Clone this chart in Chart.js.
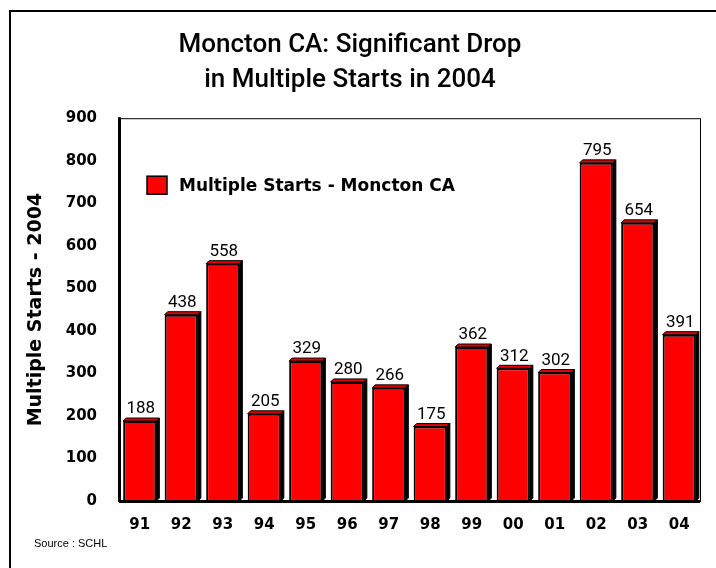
<!DOCTYPE html>
<html>
<head>
<meta charset="utf-8">
<script src="https://cdn.jsdelivr.net/npm/chart.js@4/dist/chart.umd.min.js"></script>
<style>
html,body{margin:0;padding:0;background:#fff;}
#wrap{width:716px;height:568px;position:relative;}
</style>
</head>
<body>
<div id="wrap"><canvas id="c" width="716" height="568"></canvas></div>
<script>
const categories = ['91','92','93','94','95','96','97','98','99','00','01','02','03','04'];
const multipleStarts = [188, 438, 558, 205, 329, 280, 266, 175, 362, 312, 302, 795, 654, 391];
const seriesName = 'Multiple Starts - Moncton CA';
const titleLines = ['Moncton CA: Significant Drop', 'in Multiple Starts in 2004'];
const yAxisTitle = 'Multiple Starts - 2004';
const sourceText = 'Source : SCHL';

const depth = 3;

const bar3d = {
  id: 'bar3d',
  beforeDatasetsDraw(chart) {
    const ctx = chart.ctx;
    const meta = chart.getDatasetMeta(0);
    ctx.save();
    meta.data.forEach(el => {
      const p = el.getProps(['x','y','base','width'], true);
      const l = p.x - p.width/2, r = p.x + p.width/2, t = p.y, b = p.base;
      ctx.beginPath();
      ctx.moveTo(r, t); ctx.lineTo(r+depth, t-depth); ctx.lineTo(r+depth, b-depth); ctx.lineTo(r, b); ctx.closePath();
      ctx.fillStyle = '#000'; ctx.fill();
      ctx.lineWidth = 1; ctx.strokeStyle = '#000'; ctx.stroke();
      ctx.beginPath();
      ctx.moveTo(l, t); ctx.lineTo(l+depth, t-depth); ctx.lineTo(r+depth, t-depth); ctx.lineTo(r, t); ctx.closePath();
      ctx.fillStyle = '#e00000'; ctx.fill();
      ctx.lineWidth = 1; ctx.strokeStyle = '#000'; ctx.stroke();
    });
    ctx.restore();
  },
  afterDatasetsDraw(chart) {
    const ctx = chart.ctx;
    const meta = chart.getDatasetMeta(0);
    ctx.save();
    ctx.font = '17px Roboto, "Liberation Sans", Arial, sans-serif';
    ctx.fillStyle = '#000';
    ctx.textAlign = 'center';
    ctx.textBaseline = 'middle';
    meta.data.forEach((el, i) => {
      const p = el.getProps(['x','y'], true);
      ctx.fillText(String(chart.data.datasets[0].data[i]), p.x + 1, p.y - 12);
    });
    ctx.restore();
  }
};

const frame = {
  id: 'frame',
  beforeDraw(chart) {
    const ctx = chart.ctx;
    ctx.save();
    ctx.fillStyle = '#fff';
    ctx.fillRect(0, 0, chart.width, chart.height);
    ctx.strokeStyle = '#000';
    ctx.lineWidth = 2;
    ctx.strokeRect(10, 11, chart.width + 20, chart.height + 20);
    ctx.restore();
  },
  afterDraw(chart) {
    const ctx = chart.ctx;
    const a = chart.chartArea;
    ctx.save();
    ctx.strokeStyle = '#000';
    ctx.lineWidth = 1;
    ctx.strokeRect(a.left + 0.5, a.top + 0.5, a.right - a.left, a.bottom - a.top);
    ctx.lineWidth = 3;
    ctx.beginPath();
    ctx.moveTo(a.left + 0.5, a.bottom + 1); ctx.lineTo(a.left + 0.5, a.top - 1);
    ctx.moveTo(a.left, a.bottom + 0.5); ctx.lineTo(a.right, a.bottom + 0.5);
    ctx.stroke();
    const lx = a.left + 28, ly = a.top + 58;
    ctx.fillStyle = '#ff0000';
    ctx.fillRect(lx, ly, 20, 18);
    ctx.lineWidth = 1.5;
    ctx.strokeRect(lx, ly, 20, 18);
    ctx.fillStyle = '#000';
    ctx.font = 'bold 17px "DejaVu Sans", sans-serif';
    ctx.textAlign = 'left';
    ctx.textBaseline = 'middle';
    ctx.fillText(seriesName, lx + 32, ly + 10);
    ctx.font = '11px "Liberation Sans", Arial, sans-serif';
    ctx.fillText(sourceText, 34, 544);
    ctx.restore();
  }
};

new Chart(document.getElementById('c'), {
  type: 'bar',
  data: {
    labels: categories,
    datasets: [{
      label: seriesName,
      data: multipleStarts,
      backgroundColor: '#ff0000',
      borderColor: '#000',
      borderWidth: 2,
      barPercentage: 0.8,
      categoryPercentage: 1.0
    }]
  },
  options: {
    responsive: false,
    animation: false,
    devicePixelRatio: 1,
    layout: { padding: { left: 0, right: 16, top: 0, bottom: 0 } },
    plugins: {
      legend: { display: false },
      tooltip: { enabled: false },
      title: {
        display: true,
        text: titleLines,
        color: '#000',
        font: { family: 'Roboto, "Liberation Sans", Arial, sans-serif', size: 26, weight: '500', lineHeight: 1.35 },
        padding: { top: 28, bottom: 20 }
      }
    },
    scales: {
      x: {
        grid: { display: false, drawTicks: false },
        border: { display: false },
        ticks: { color: '#000', font: { family: '"DejaVu Sans", sans-serif', size: 15, weight: 'bold' }, padding: 15, maxRotation: 0 },
        afterFit(s) { s.height = 67; }
      },
      y: {
        min: 0, max: 900,
        grid: { display: false, drawTicks: false },
        border: { display: false },
        ticks: { stepSize: 100, color: '#000', font: { family: '"DejaVu Sans", sans-serif', size: 15, weight: 'bold' }, padding: 22 },
        title: { display: true, text: yAxisTitle, color: '#000', font: { family: '"DejaVu Sans", sans-serif', size: 19, weight: 'bold' }, padding: { top: 25, bottom: 0 } },
        afterFit(s) { s.width = 119; }
      }
    }
  },
  plugins: [frame, bar3d]
});
</script>
</body>
</html>
